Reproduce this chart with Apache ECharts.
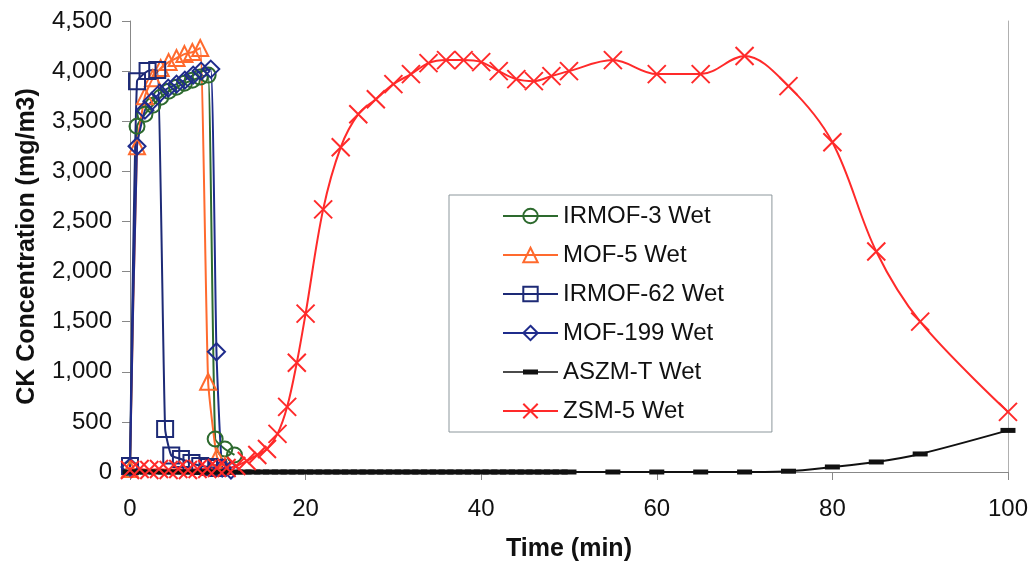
<!DOCTYPE html>
<html>
<head>
<meta charset="utf-8">
<script src="https://cdn.jsdelivr.net/npm/echarts@6/dist/echarts.min.js"></script>
<style>
html,body{margin:0;padding:0;background:#fff;}
#chart{width:1031px;height:567px;}
</style>
</head>
<body>
<div id="chart"></div>
<script>
// ---- Data (time in min, concentration in mg/m3) ----
const seriesNames = ["IRMOF-3 Wet", "MOF-5 Wet", "IRMOF-62 Wet", "MOF-199 Wet", "ASZM-T Wet", "ZSM-5 Wet"];

const irmof3Time = [0, 0.8, 1.7, 2.6, 3.5, 4.4, 5.3, 6.2, 7.1, 8.0, 8.9, 9.7, 10.8, 11.9];
const irmof3Conc = [30, 3450, 3570, 3660, 3740, 3800, 3840, 3880, 3910, 3940, 3960, 330, 230, 170];

const mof5Time = [0, 0.8, 1.7, 2.6, 3.5, 4.4, 5.3, 6.2, 7.1, 8.0, 8.9, 9.9, 10.8];
const mof5Conc = [30, 3250, 3750, 3930, 4030, 4090, 4130, 4170, 4190, 4230, 900, 150, 60];

const irmof62Time = [0, 0.8, 2.0, 3.1, 4.0, 4.7, 5.8, 7.0, 8.0, 9.0, 10.0];
const irmof62Conc = [60, 3900, 4000, 4010, 430, 165, 130, 90, 60, 50, 40];

const mof199Time = [0, 0.8, 1.7, 2.5, 3.4, 4.35, 5.3, 6.25, 7.2, 8.1, 9.2, 9.85, 10.5, 11.5];
const mof199Conc = [50, 3250, 3610, 3700, 3780, 3830, 3870, 3910, 3960, 4000, 4020, 1200, 40, 20];

const aszmTime = [0, 1, 2, 3, 4, 5, 6, 7, 8, 9, 10, 11, 12, 13, 14, 15, 16, 17, 18, 19, 20,
  21, 22, 23, 24, 25, 26, 27, 28, 29, 30, 31, 32, 33, 34, 35, 36, 37, 38, 39, 40,
  41, 42, 43, 44, 45, 46, 47, 48, 49, 50, 55, 60, 65, 70, 75, 80, 85, 90, 100];
const aszmConc = [0, 0, 0, 0, 0, 0, 0, 0, 0, 0, 0, 0, 0, 0, 0, 0, 0, 0, 0, 0, 0,
  0, 0, 0, 0, 0, 0, 0, 0, 0, 0, 0, 0, 0, 0, 0, 0, 0, 0, 0, 0,
  0, 0, 0, 0, 0, 0, 0, 0, 0, 0, 0, 0, 0, 0, 8, 50, 100, 180, 415];

const zsmTime = [0, 1.1, 2.2, 3.3, 4.4, 5.5, 6.6, 7.7, 8.8, 9.9, 11.0, 12.1, 13.3, 14.5, 15.6, 16.8, 17.9, 19.0, 20, 22, 24, 26, 28, 30, 32, 34, 36, 38, 40, 42, 44, 46, 48, 50, 55, 60, 65, 70, 75, 80, 85, 90, 100];
const zsmConc = [20, 30, 20, 30, 20, 30, 20, 30, 30, 40, 40, 60, 110, 170, 230, 380, 650, 1090, 1580, 2620, 3240, 3570, 3720, 3870, 3970, 4080, 4110, 4110, 4090, 4000, 3920, 3900, 3950, 4000, 4110, 3970, 3970, 4150, 3850, 3290, 2200, 1500, 600];

const xTicks = [0, 20, 40, 60, 80, 100];
const yTicks = [0, 500, 1000, 1500, 2000, 2500, 3000, 3500, 4000, 4500];

// ---- Build ----
function pairs(t, v) { return t.map((x, i) => [x, v[i]]); }
const FONT = "'Liberation Sans', Arial, sans-serif";
const crossPath = 'path://M0,0L10,10M10,0L0,10';
// legend icon for ASZM: thin line with a thick dash in the middle (55 x 18 box)
const dashLegendIcon = 'path://M0,0L0.01,0L0,0.01Z M55,18L54.99,18L55,17.99Z M0,8.2L55,8.2L55,9.8L0,9.8Z M20,6.5L35,6.5L35,11.5L20,11.5Z';

function mkSeries(name, t, v, color, symbol, size, smooth, extra) {
  return Object.assign({
    name: name,
    type: 'line',
    data: pairs(t, v),
    smooth: smooth,
    symbol: symbol,
    symbolSize: size,
    showAllSymbol: true,
    lineStyle: { color: color, width: 2 },
    itemStyle: { color: 'rgba(0,0,0,0)', borderColor: color, borderWidth: 2 },
    emphasis: { disabled: true },
    z: 2
  }, extra || {});
}

const legendData = seriesNames.map(n => n === "ASZM-T Wet" ? { name: n, icon: dashLegendIcon } : { name: n });

const chart = echarts.init(document.getElementById('chart'), null, { renderer: 'canvas' });
chart.setOption({
  animation: false,
  backgroundColor: '#ffffff',
  grid: { left: 130, right: 23, top: 21, bottom: 94, containLabel: false },
  legend: {
    orient: 'vertical',
    left: 449, top: 195,
    padding: [8, 48, 8, 53],
    itemWidth: 55, itemHeight: 18, itemGap: 13,
    backgroundColor: '#ffffff',
    borderColor: '#8c979c', borderWidth: 1,
    textStyle: { fontFamily: FONT, fontSize: 24, color: '#111', lineHeight: 26 },
    data: legendData
  },
  xAxis: {
    type: 'value', min: 0, max: 100, interval: 20,
    name: 'Time (min)', nameLocation: 'middle', nameGap: 65,
    nameTextStyle: { fontFamily: FONT, fontSize: 25, fontWeight: 'bold', color: '#111' },
    axisLine: { show: true, onZero: false, lineStyle: { color: '#888', width: 1 } },
    axisTick: { show: true, inside: false, length: 8, lineStyle: { color: '#888' } },
    axisLabel: { fontFamily: FONT, fontSize: 24, color: '#111', margin: 25,
      formatter: v => xTicks.includes(v) ? String(v) : '' },
    splitLine: { show: false }
  },
  yAxis: [{
    type: 'value', min: 0, max: 4500, interval: 500,
    name: 'CK Concentration (mg/m3)', nameLocation: 'middle', nameGap: 90,
    nameTextStyle: { fontFamily: FONT, fontSize: 25, fontWeight: 'bold', color: '#111' },
    axisLine: { show: true, lineStyle: { color: '#888', width: 1 } },
    axisTick: { show: true, inside: false, length: 8, lineStyle: { color: '#888' } },
    axisLabel: { fontFamily: FONT, fontSize: 24, color: '#111', margin: 18,
      formatter: v => yTicks.includes(v) ? v.toLocaleString('en-US') : '' },
    splitLine: { show: false }
  }, {
    type: 'value', min: 0, max: 4500, interval: 500, position: 'right',
    axisLine: { show: true, lineStyle: { color: '#b0b0b0', width: 1 } },
    axisTick: { show: false }, axisLabel: { show: false }, splitLine: { show: false }
  }],
  series: [
    mkSeries(seriesNames[0], irmof3Time, irmof3Conc, '#2d6a2e', 'circle', 15, 0.15),
    mkSeries(seriesNames[1], mof5Time, mof5Conc, '#ff6a2e', 'triangle', 16, 0.15),
    mkSeries(seriesNames[2], irmof62Time, irmof62Conc, '#1d2a76', 'rect', 16, 0.15),
    mkSeries(seriesNames[3], mof199Time, mof199Conc, '#1f2c8c', 'diamond', 17, 0.15),
    mkSeries(seriesNames[4], aszmTime, aszmConc, '#111111', 'rect', [15, 5], 0.3,
      { itemStyle: { color: '#111111', borderWidth: 0 } }),
    mkSeries(seriesNames[5], zsmTime, zsmConc, '#ff2a2a', crossPath, 18, 0.35)
  ]
});
</script>
</body>
</html>
